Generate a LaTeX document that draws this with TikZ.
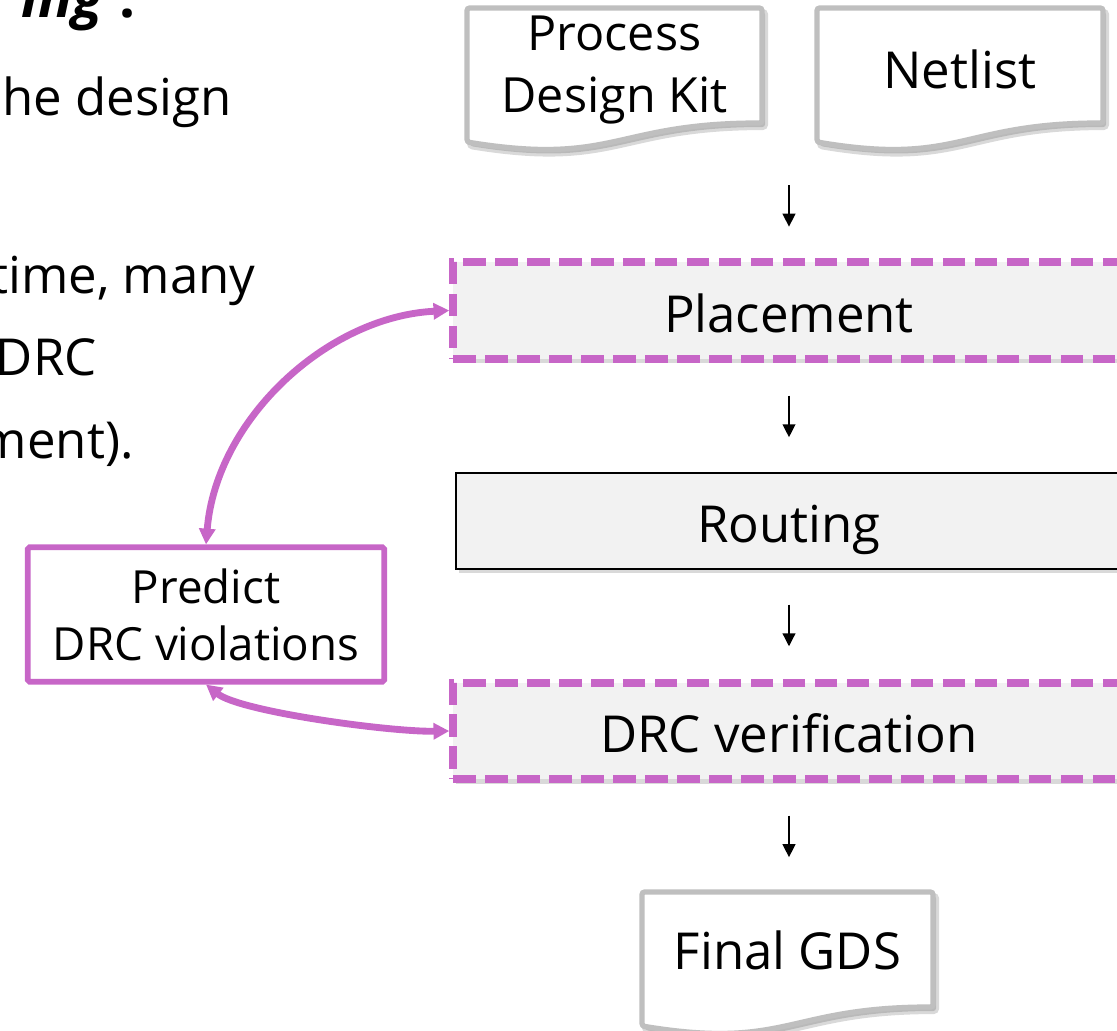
\documentclass[tikz,border=0pt]{standalone}
\usepackage{fontspec}
\setmainfont{Open Sans}
\usetikzlibrary{arrows.meta,calc,shadows}
\definecolor{pur}{RGB}{199,102,199}
\definecolor{boxfill}{RGB}{242,242,242}
\definecolor{docgray}{RGB}{191,191,191}
\def\pxu{0.5669pt}
\pgfdeclarelayer{bg}
\pgfsetlayers{bg,main}
% doc shape: #1 node, #2 width(px), #3 top offset(px), #4 dx, #5 dy
\newcommand\docpath[5]{($(#1.center)+(-#2/2+#4,-#3+#5)$) -- ($(#1.center)+(#2/2+#4,-#3+#5)$) -- ($(#1.center)+(#2/2+#4,-#3+115+#5)$) .. controls ($(#1.center)+(#4,-#3+115+#5)$) and ($(#1.center)+(#4,-#3+158+#5)$) .. ($(#1.center)+(-#2/2+#4,-#3+134+#5)$) -- cycle}
\begin{document}
\begin{tikzpicture}[x=0.02cm,y=-0.02cm,
  lefttxt/.style={anchor=base east, inner sep=0pt, font=\fontsize{29}{35}\selectfont},
  flowbox/.style={fill=boxfill, inner sep=0pt, minimum width=674*\pxu, minimum height=97*\pxu,
    text height=25pt, text depth=0pt, font=\fontsize{29}{35}\selectfont,
    drop shadow={shadow xshift=1.5pt, shadow yshift=-2.5pt, opacity=.3}},
  dashbox/.style={flowbox, draw=pur, line width=4.6pt, dash pattern=on 12.8pt off 5.4pt},
  solidbox/.style={flowbox, draw=black, line width=1.3pt},
  docnode/.style={inner sep=0pt},
  docline/.style={draw=docgray, fill=white, line width=3pt, rounded corners=1.5pt},
  docshadow/.style={draw=black, fill=black, opacity=.15, line width=3.5pt, rounded corners=1.5pt},
  flowarrow/.style={-{Triangle[length=7.4pt,width=7.2pt]}, line width=1.2pt},
  purarrow/.style={{Triangle[length=9pt,width=9pt]}-{Triangle[length=9pt,width=9pt]}, draw=pur, line width=3.9pt},
]
\path[use as bounding box] (0,0) rectangle (1117,1031);
\clip (0,0) rectangle (1117,1031);

% left partial text
\node[lefttxt, font=\fontsize{32}{38}\selectfont\bfseries] (title) at (136,17) {\textit{ing} :};
\node[lefttxt] (t1) at (232,115) {he design};
\node[lefttxt] (t2) at (256,293) {time, many};
\node[lefttxt] (t3) at (97,375) {DRC};
\node[lefttxt] (t4) at (134,458) {ment).};

% documents
\node[docnode, align=center, font=\fontsize{27.6}{35.1}\selectfont] (pdk) at (614.5,70) {Process\\Design Kit};
\node[docnode, font=\fontsize{29}{35}\selectfont] (net) at (960,69) {Netlist};
\node[docnode, font=\fontsize{29}{35}\selectfont] (gds) at (787.5,950.5) {Final GDS};
\begin{pgfonlayer}{bg}
  \path[docshadow] \docpath{pdk}{295}{62}{3}{4};
  \draw[docline] \docpath{pdk}{295}{62}{0}{0};
  \path[docshadow] \docpath{net}{286}{61}{3}{4};
  \draw[docline] \docpath{net}{286}{61}{0}{0};
  \path[docshadow] \docpath{gds}{291}{58.5}{3}{4};
  \draw[docline] \docpath{gds}{291}{58.5}{0}{0};
\end{pgfonlayer}

% flow boxes
\node[dashbox] (place) at (789,310.5) {Placement};
\node[solidbox, minimum width=668*\pxu, minimum height=96*\pxu] (route) at (789,521) {Routing};
\node[dashbox] (drc) at (789,731) {DRC verification};

% predictor
\node[draw=pur, line width=3.2pt, fill=white, inner sep=0pt, rounded corners=1pt,
  minimum width=358*\pxu, minimum height=135*\pxu, align=center,
  font=\fontsize{26}{32.3}\selectfont] (predict) at (206,614.5) {Predict\\DRC violations};

% flow arrows
\coordinate (in) at (789,185);
\coordinate (gdstop) at (789,892);
\draw[flowarrow, shorten >=17.9pt] (in) -- (place.north);
\draw[flowarrow, shorten <=18.7pt, shorten >=19.8pt] (place.south) -- (route.north);
\draw[flowarrow, shorten <=19.8pt, shorten >=18.4pt] (route.south) -- (drc.north);
\draw[flowarrow, shorten <=18.4pt, shorten >=19.8pt] (drc.south) -- (gdstop);

% purple feedback arrows
\draw[purarrow] (predict.north) .. controls +(10,-125) and +(-122,6) .. (place.west);
\draw[purarrow] (predict.south) .. controls +(34,27) and +(-60,1) .. (drc.west);
\end{tikzpicture}
\end{document}
